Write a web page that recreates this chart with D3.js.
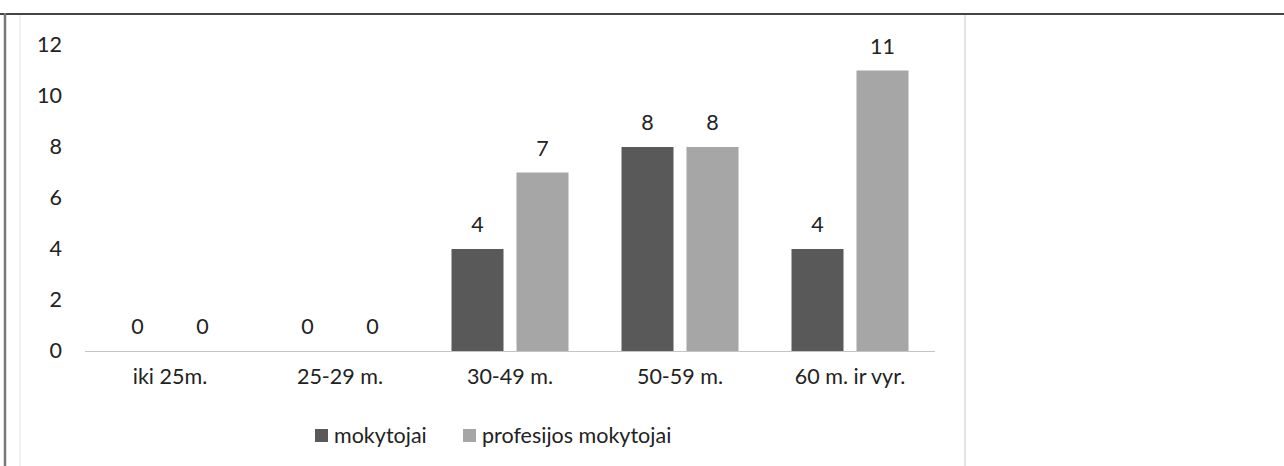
<!DOCTYPE html>
<html>
<head>
<meta charset="utf-8">
<script src="https://cdn.jsdelivr.net/npm/d3@7"></script>
<style>
  body { margin: 0; background: #fff; }
  svg { display: block; font-family: Lato, "Open Sans", sans-serif; }
</style>
</head>
<body>
<svg id="chart" width="1284" height="466"></svg>
<script>
const categories = ["iki 25m.", "25-29 m.", "30-49 m.", "50-59 m.", "60 m. ir vyr."];
const seriesNames = ["mokytojai", "profesijos mokytojai"];
const mokytojai = [0, 0, 4, 8, 4];
const profesijos = [0, 0, 7, 8, 11];
const yTicks = [0, 2, 4, 6, 8, 10, 12];

const colors = { "mokytojai": "#595959", "profesijos mokytojai": "#a6a6a6" };
const fs = 21.5;

const svg = d3.select("#chart");

// page frame
svg.append("line").attr("x1", 0).attr("x2", 1284).attr("y1", 14).attr("y2", 14)
  .attr("stroke", "#444").attr("stroke-width", 2);
svg.append("line").attr("x1", 5).attr("x2", 5).attr("y1", 13).attr("y2", 466)
  .attr("stroke", "#777").attr("stroke-width", 2.5);
svg.append("line").attr("x1", 20).attr("x2", 20).attr("y1", 15).attr("y2", 466)
  .attr("stroke", "#e4e4e4").attr("stroke-width", 1);
svg.append("line").attr("x1", 965).attr("x2", 965).attr("y1", 15).attr("y2", 466)
  .attr("stroke", "#c8c8c8").attr("stroke-width", 1);

const x0 = d3.scaleBand().domain(categories).range([85, 935]);
const x1 = d3.scaleBand().domain(seriesNames).range([26.5, 143.5]).paddingInner(0.2);
const y = d3.scaleLinear().domain([0, 12]).range([351, 45]);

// y axis labels
svg.append("g").selectAll("text").data(yTicks).enter().append("text")
  .attr("x", 62).attr("y", d => y(d) + 7)
  .attr("text-anchor", "end").attr("font-size", fs).attr("fill", "#222")
  .text(d => d);

// baseline
svg.append("line").attr("x1", 85).attr("x2", 935).attr("y1", y(0) + 0.5).attr("y2", y(0) + 0.5)
  .attr("stroke", "#c4c4c4").attr("stroke-width", 1);

const rows = categories.map((c, i) => ({ cat: c, vals: [
  { s: seriesNames[0], v: mokytojai[i] },
  { s: seriesNames[1], v: profesijos[i] }
] }));

const groups = svg.append("g").selectAll("g").data(rows).enter().append("g")
  .attr("transform", d => `translate(${x0(d.cat)},0)`);

groups.selectAll("rect").data(d => d.vals).enter().append("rect")
  .attr("x", d => x1(d.s)).attr("width", x1.bandwidth())
  .attr("y", d => y(d.v)).attr("height", d => y(0) - y(d.v))
  .attr("fill", d => colors[d.s]);

groups.selectAll("text").data(d => d.vals).enter().append("text")
  .attr("x", d => x1(d.s) + x1.bandwidth() / 2)
  .attr("y", d => y(d.v) - 17)
  .attr("text-anchor", "middle").attr("font-size", fs).attr("fill", "#222")
  .text(d => d.v);

// category labels
svg.append("g").selectAll("text").data(categories).enter().append("text")
  .attr("x", d => x0(d) + x0.bandwidth() / 2).attr("y", 384)
  .attr("text-anchor", "middle").attr("font-size", fs).attr("fill", "#222")
  .text(d => d);

// legend
const legendX = [315, 463];
const legend = svg.append("g").selectAll("g").data(seriesNames).enter().append("g")
  .attr("transform", (d, i) => `translate(${legendX[i]},429)`);
legend.append("rect").attr("width", 13).attr("height", 13).attr("fill", d => colors[d]);
legend.append("text").attr("x", 19).attr("y", 14)
  .attr("font-size", fs).attr("fill", "#222").text(d => d);
</script>
</body>
</html>
